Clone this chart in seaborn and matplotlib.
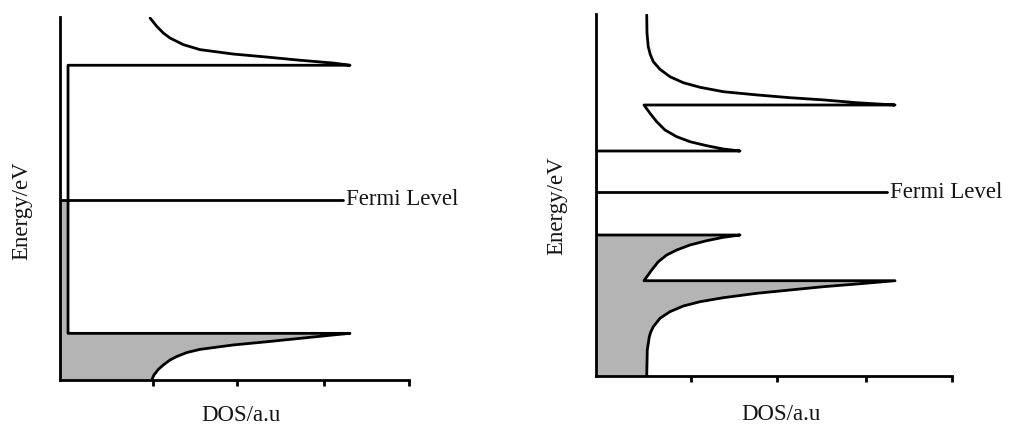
import matplotlib
matplotlib.use("Agg")
import matplotlib.pyplot as plt
import seaborn as sns

# ---- Metal: DOS (a.u.) vs energy (relative to the Fermi level) ----
metal_dos = [1.051, 1.077, 1.127, 1.184, 1.261, 1.337, 1.452, 1.605, 1.986, 2.369,
             2.751, 3.132, 3.324,
             0.092, 0.092,
             3.324, 3.132, 2.751, 2.369, 1.986, 1.605, 1.413, 1.261, 1.184, 1.108,
             1.032]
metal_energy = [-9.0, -8.75, -8.47, -8.25, -8.0, -7.83, -7.63, -7.47, -7.25, -7.09,
                -6.92, -6.75, -6.67,
                -6.67, 6.72,
                6.72, 6.83, 6.97, 7.13, 7.28, 7.5, 7.75, 8.08, 8.33, 8.67,
                9.08]
metal_ylim = (-9.0, 9.13)
metal_fermi_end = 3.243

# ---- Semiconductor: DOS (a.u.) vs energy (relative to the Fermi level) ----
semi_dos = [0.570, 0.576, 0.599, 0.615, 0.644, 0.719, 0.831, 0.981, 1.169, 1.431,
            1.805, 2.180, 2.554, 2.929, 3.360,
            0.539, 0.626, 0.700, 0.794, 0.907, 1.056, 1.243, 1.431, 1.618,
            0.0, 0.0,
            1.618, 1.431, 1.243, 1.056, 0.907, 0.775, 0.682, 0.607, 0.539,
            3.360, 2.929, 2.554, 2.180, 1.805, 1.431, 1.169, 0.981, 0.831, 0.719,
            0.644, 0.610, 0.587, 0.573, 0.570]
semi_energy = [-9.175, -7.875, -7.21, -6.98, -6.71, -6.29, -5.96, -5.675, -5.46, -5.26,
               -5.04, -4.875, -4.71, -4.575, -4.41,
               -4.41, -3.875, -3.46, -3.125, -2.875, -2.625, -2.41, -2.24, -2.125,
               -2.125, 2.075,
               2.075, 2.175, 2.34, 2.54, 2.79, 3.125, 3.54, 3.96, 4.375,
               4.375, 4.49, 4.63, 4.74, 4.88, 5.04, 5.26, 5.49, 5.79, 6.16,
               6.54, 6.9, 7.29, 7.96, 8.875]
semi_ylim = (-9.175, 8.925)
semi_fermi_end = 3.27

x_ticks = [1.07, 2.03, 3.03, 4.0]
fermi_label = "Fermi Level"
x_label = "DOS/a.u"
y_label = "Energy/eV"

sns.set_style("ticks")
plt.rcParams["font.family"] = ["Liberation Serif", "DejaVu Serif"]

LW = 2.0
INK = "black"
TEXT = "#151515"
FILL = "#b4b4b4"
FS = 16.5

W, H = 1013, 428
fig = plt.figure(figsize=(W / 100, H / 100), dpi=100)


def occupied_polygon(dos, energy, fermi=0.0):
    """Region between the energy axis and the DOS curve below the Fermi level."""
    xs, ys = [0.0], [energy[0]]
    for i, (x, e) in enumerate(zip(dos, energy)):
        if e <= fermi:
            xs.append(x)
            ys.append(e)
        else:
            x0, e0 = dos[i - 1], energy[i - 1]
            t = (fermi - e0) / (e - e0)
            xs.append(x0 + t * (x - x0))
            ys.append(fermi)
            break
    xs.append(0.0)
    ys.append(fermi)
    return xs, ys


def draw_panel(rect, dos, energy, ylim, fermi_end, ylab_xy, xlab_xy):
    ax = fig.add_axes(rect)
    px, py = occupied_polygon(dos, energy)
    ax.fill(px, py, color=FILL, lw=0, zorder=1)
    sns.lineplot(x=dos, y=energy, sort=False, estimator=None, color=INK,
                 lw=LW, ax=ax, zorder=3)
    ax.plot([0, fermi_end], [0, 0], color=INK, lw=LW, zorder=3)
    ax.text(fermi_end + 0.035, 0, fermi_label, ha="left", va="center",
            fontsize=FS, color=TEXT)
    ax.set_xlim(0, 4.0)
    ax.set_ylim(*ylim)
    ax.set_xticks(x_ticks)
    ax.set_xticklabels([])
    ax.set_yticks([])
    ax.tick_params(axis="x", direction="out", length=4.5, width=LW, color=INK)
    sns.despine(ax=ax)
    for s in ("left", "bottom"):
        ax.spines[s].set_linewidth(LW)
        ax.spines[s].set_color(INK)
    ax.set_xlabel(x_label, fontsize=FS, color=TEXT, va="center")
    ax.set_ylabel(y_label, fontsize=FS, color=TEXT, va="center")
    ax.xaxis.set_label_coords(*xlab_xy)
    ax.yaxis.set_label_coords(*ylab_xy)
    ax.set_facecolor("white")
    return ax


draw_panel([60 / W, 1 - 380 / H, 349 / W, 363 / H], metal_dos, metal_energy,
           metal_ylim, metal_fermi_end, (-0.109, 0.466), (0.52, -0.099))
draw_panel([596 / W, 1 - 376 / H, 356 / W, 362 / H], semi_dos, semi_energy,
           semi_ylim, semi_fermi_end, (-0.110, 0.470), (0.52, -0.105))

fig.savefig("out.png", dpi=100, facecolor="white")
